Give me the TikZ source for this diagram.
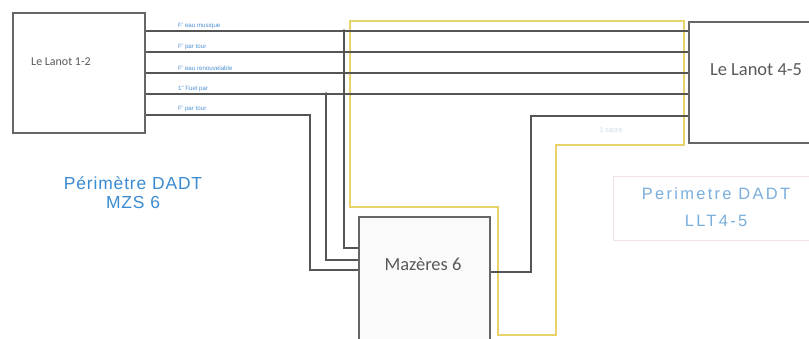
\documentclass[tikz,border=0pt]{standalone}
\usepackage{fontspec}
\setmainfont{Liberation Sans}
\newfontfamily\boxfont{Carlito}
\newfontfamily\perifont[LetterSpace=5]{Liberation Sans}
\newfontfamily\perifontwide[LetterSpace=14]{Liberation Sans}
\definecolor{wire}{HTML}{555555}
\definecolor{frame}{HTML}{666666}
\definecolor{zone}{HTML}{E8D26C}
\definecolor{periblue}{HTML}{3A8BD2}
\definecolor{perilight}{HTML}{7AAEDC}
\definecolor{tagblue}{HTML}{4F93D4}
\definecolor{ghost}{HTML}{C9DCEB}
\definecolor{softedge}{HTML}{F1E3E3}
\begin{document}
\begin{tikzpicture}[x=1bp,y=-1bp,
  site/.style={draw=frame,line width=1.3bp,fill=white,inner sep=0pt},
  sitetext/.style={text=black!65},
  wireline/.style={draw=wire,line width=1.6bp},
  zoneline/.style={draw=zone,line width=2.2bp,line join=miter},
  tag/.style={font=\fontsize{6.2}{7}\selectfont,text=tagblue,anchor=south west,inner sep=0pt},
  junction/.style={circle,fill=wire,inner sep=0pt,minimum size=3.8bp},
  peri/.style={align=center,inner sep=0pt}]
\useasboundingbox (0,0) rectangle (809,338);
\fill[white] (0,0) rectangle (809,338);

% sites
\node[site,minimum width=132bp,minimum height=120bp] (lan12) at (79,73) {};
\node[sitetext,font=\boxfont\fontsize{12}{14}\selectfont] (lan12t) at (61,62) {Le Lanot 1-2};
\node[site,minimum width=124bp,minimum height=121bp] (lan45) at (751,82.5) {};
\node[sitetext,font=\boxfont\fontsize{18.5}{20}\selectfont] (lan45t) at (756,70) {Le Lanot 4-5};
\node[site,fill=black!2,minimum width=131bp,minimum height=125bp] (maz) at (424.5,279.5) {};
\node[sitetext,font=\boxfont\fontsize{18.5}{20}\selectfont] (mazt) at (423,264) {Mazères 6};

% perimeter outline of DADT LLT4-5
\draw[zoneline] (350,21) coordinate (z1) -- (684,21) coordinate (z2) -- (684,145) coordinate (z3)
  -- (556,145) coordinate (z4) -- (556,335) coordinate (z5) -- (498,335) coordinate (z6)
  -- (498,207) coordinate (z7) -- (350,207) coordinate (z8) -- cycle;

% reference heights of the five links
\coordinate (r1) at (0,31);
\coordinate (r2) at (0,52);
\coordinate (r3) at (0,73);
\coordinate (r4) at (0,94);
\coordinate (r5) at (0,115);
\coordinate (r6) at (0,116);

% through links Le Lanot 1-2 -> Le Lanot 4-5
\draw[wireline] (lan12.east |- r1) -- (lan45.west |- r1);
\draw[wireline] (lan12.east |- r2) -- (lan45.west |- r2);
\draw[wireline] (lan12.east |- r3) -- (lan45.west |- r3);
\draw[wireline] (lan12.east |- r4) -- (lan45.west |- r4);

% branches down to Mazères 6
\coordinate (j1) at (344,31);
\coordinate (j4) at (326,94);
\coordinate (b5) at (310,115);
\coordinate (m1) at (344,248);
\coordinate (m4) at (326,260);
\coordinate (m5) at (310,270);
\draw[wireline] (j1) -- (m1) -- (maz.west |- m1);
\draw[wireline] (j4) -- (m4) -- (maz.west |- m4);
\draw[wireline] (lan12.east |- r5) -- (b5) -- (m5) -- (maz.west |- m5);
\node[junction] (d1) at (j1) {};
\node[junction] (d4) at (j4) {};

% Mazères 6 -> Le Lanot 4-5
\coordinate (e1) at (531,272);
\coordinate (e2) at (531,116);
\draw[wireline] (maz.east |- e1) -- (e1) -- (e2) -- (lan45.west |- r6);

% link labels
\node[tag] (t1) at (178,29) {F' eau musique};
\node[tag] (t2) at (178,50) {F' par tour};
\node[tag] (t3) at (178,71) {F' eau renouvelable};
\node[tag] (t4) at (178,92) {1" Fuel par};
\node[tag] (t5) at (178,112) {F' par tour};
\node[font=\fontsize{7}{8}\selectfont,text=ghost] (g1) at (611,130) {1  sacre};

% perimeters
\node[peri,font=\perifont\fontsize{17.5}{19}\selectfont,text=periblue] (pmzs) at (133,193)
  {Périmètre DADT\\MZS 6};
\draw[softedge,line width=0.8bp] (812,176) -- (613,176) -- (613,240) -- (812,240);
\node[peri,font=\perifontwide\fontsize{16.5}{27}\selectfont,text=perilight] (pllt) at (716,207)
  {Perimetre DADT\\LLT4-5};
\end{tikzpicture}
\end{document}
